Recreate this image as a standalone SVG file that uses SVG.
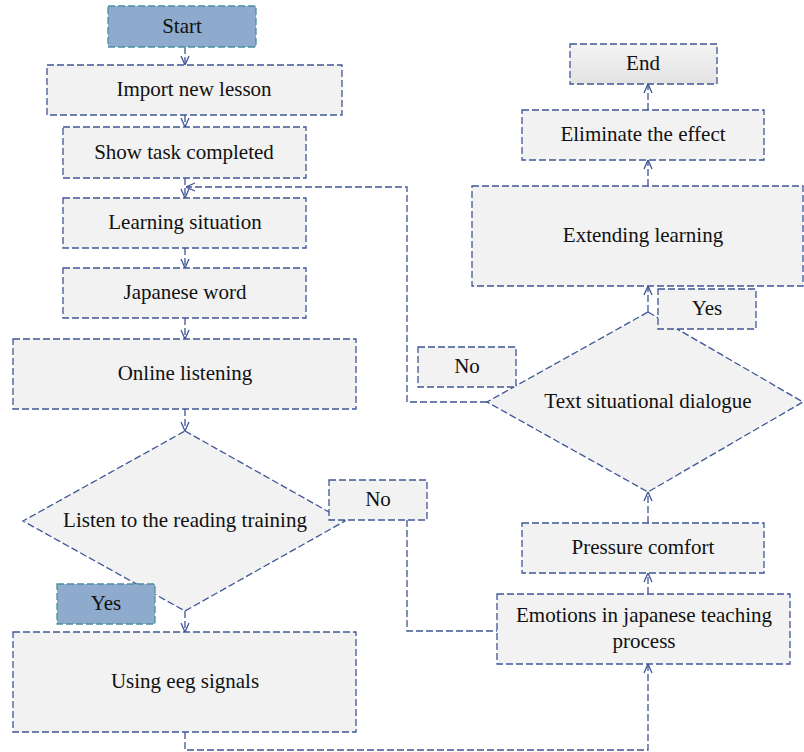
<svg xmlns="http://www.w3.org/2000/svg" width="804" height="752" viewBox="0 0 804 752">
<defs>
<linearGradient id="gEnd" x1="0" y1="0" x2="0" y2="1"><stop offset="0" stop-color="#f4f4f4"/><stop offset="1" stop-color="#e2e2e2"/></linearGradient>
<marker id="arr" viewBox="0 0 10 10" refX="10" refY="5" markerWidth="10" markerHeight="10" markerUnits="userSpaceOnUse" orient="auto">
<path d="M1,1 L10,5 L1,9" fill="none" stroke="#3f5597" stroke-width="1.3"/>
</marker>
<style>
.box{fill:#f2f2f2;stroke:#3f5597;stroke-width:1.3;stroke-dasharray:7 3}
.blue{fill:#8eaacc;stroke:#4a8f9e;stroke-width:1.3;stroke-dasharray:7 3}
.end{fill:url(#gEnd);stroke:#3f5597;stroke-width:1.3;stroke-dasharray:7 3}
.c{fill:none;stroke:#3f5597;stroke-width:1.3;stroke-dasharray:7 3}
.a{marker-end:url(#arr)}
text{font-family:"Liberation Serif","Times New Roman",serif;font-size:21px;fill:#111;text-anchor:middle;dominant-baseline:central}
</style>
</defs>
<rect width="804" height="752" fill="#fff"/>
<g id="connectors">
<path class="c a" d="M185,47 V65"/>
<path class="c a" d="M185,115 V127"/>
<path class="c a" d="M185,178 V198"/>
<path class="c a" d="M185,248 V268"/>
<path class="c a" d="M185,318 V339"/>
<path class="c a" d="M185,409 V431"/>
<path class="c a" d="M185,611 V632"/>
<path class="c a" d="M185,732 V750 H648 V664"/>
<path class="c" d="M407,520 V631 H497"/>
<path class="c a" d="M648,594 V573"/>
<path class="c a" d="M648,523 V492"/>
<path class="c a" d="M648,312 V286"/>
<path class="c a" d="M648,186 V160"/>
<path class="c a" d="M648,110 V84"/>
<path class="c a" d="M487,402 H407 V187 H186"/>
</g>
<g id="start"><rect class="blue" x="108" y="6" width="148" height="41"/><text x="182" y="26">Start</text></g>
<g id="import"><rect class="box" x="47" y="65" width="295" height="50"/><text x="194" y="89">Import new lesson</text></g>
<g id="show"><rect class="box" x="63" y="127" width="243" height="51"/><text x="184" y="152">Show task completed</text></g>
<g id="learning"><rect class="box" x="63" y="198" width="243" height="50"/><text x="185" y="222">Learning situation</text></g>
<g id="word"><rect class="box" x="63" y="268" width="243" height="50"/><text x="185" y="292">Japanese word</text></g>
<g id="online"><rect class="box" x="13" y="339" width="343" height="70"/><text x="185" y="373">Online listening</text></g>
<g id="listen"><polygon class="box" points="185,431 345,521 185,611 23,521"/><text x="185" y="520">Listen to the reading training</text></g>
<g id="no1"><rect class="box" x="329" y="480" width="98" height="40"/><text x="378" y="499">No</text></g>
<g id="yes1"><rect class="blue" x="57" y="584" width="98" height="40"/><text x="106" y="603">Yes</text></g>
<g id="eeg"><rect class="box" x="13" y="632" width="343" height="100"/><text x="185" y="681">Using eeg signals</text></g>
<g id="emotions"><rect class="box" x="497" y="594" width="293" height="70"/><text x="644" y="615">Emotions in japanese teaching</text><text x="644" y="641">process</text></g>
<g id="pressure"><rect class="box" x="522" y="523" width="242" height="50"/><text x="643" y="547">Pressure comfort</text></g>
<g id="dialogue"><polygon class="box" points="648,312 803,402 648,492 487,402"/><text x="648" y="401">Text situational dialogue</text></g>
<g id="no2"><rect class="box" x="418" y="347" width="98" height="40"/><text x="467" y="366">No</text></g>
<g id="yes2"><rect class="box" x="658" y="289" width="98" height="40"/><text x="707" y="308">Yes</text></g>
<g id="extending"><rect class="box" x="472" y="186" width="331" height="100"/><text x="643" y="235">Extending learning</text></g>
<g id="eliminate"><rect class="box" x="522" y="110" width="242" height="50"/><text x="643" y="134">Eliminate the effect</text></g>
<g id="end"><rect class="end" x="570" y="44" width="147" height="40"/><text x="643" y="63">End</text></g>
</svg>
